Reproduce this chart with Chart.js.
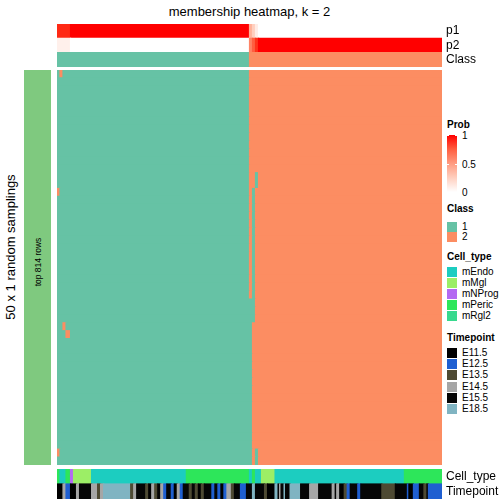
<!DOCTYPE html>
<html>
<head>
<meta charset="utf-8">
<title>membership heatmap, k = 2</title>
<script src="https://cdn.jsdelivr.net/npm/chart.js@4.4.1/dist/chart.umd.min.js"></script>
<style>
    html, body { margin: 0; padding: 0; background: #ffffff; }
    body {
        position: relative;
        width: 504px;
        height: 504px;
        overflow: hidden;
        font-family: "Liberation Sans", Arial, Helvetica, sans-serif;
        color: #000000;
    }
    canvas { position: absolute; }
    .txt { position: absolute; white-space: nowrap; line-height: 1; }
    #title { left: 249.5px; top: 11px; font-size: 13px; transform: translate(-50%, -50%); }
    #sideTitle { left: 10px; top: 247px; font-size: 13px; transform: translate(-50%, -50%) rotate(-90deg); }
    #rowSplit { position: absolute; left: 24px; top: 70px; width: 27px; height: 395px; background: #7FC97F; }
    #rowSplit span { left: 14px; top: 192px; font-size: 8.5px; transform: translate(-50%, -50%) rotate(-90deg); }
    #topAnno { left: 57px; top: 24px; }
    #mainHeatmap { left: 57px; top: 70px; }
    #bottomAnno { left: 57px; top: 469px; }
    .legTitle { font-size: 10px; font-weight: bold; transform: translateY(-50%); }
    .legLabel { font-size: 10px; transform: translateY(-50%); }
    .legBox { position: absolute; width: 10px; height: 10px; }
    .legTick { position: absolute; width: 2px; height: 1px; background: #ffffff; }
</style>
</head>
<body>

<div id="title" class="txt">membership heatmap, k = 2</div>
<div id="sideTitle" class="txt">50 x 1 random samplings</div>
<div id="rowSplit"><span class="txt">top 814 rows</span></div>

<canvas id="topAnno" width="447" height="43"></canvas>
<canvas id="mainHeatmap" width="385" height="395"></canvas>
<canvas id="bottomAnno" width="447" height="30"></canvas>

<div id="legends"></div>

<script>
// ======================================
// Data
// ======================================

const SAMPLE_COUNT = 256;

const SAMPLING_ROWS = 50;

// class per sample in the consensus: [start, end, class]
const sampleClassRuns = [
    [0, 128, "1"],
    [128, 256, "2"]
];

// membership probability of class 1: [start, end, p1]
const p1Runs = [
    [0, 9, 0.92],
    [9, 128, 1],
    [128, 130, 0.4],
    [130, 132, 0.25],
    [132, 134, 0.1],
    [134, 256, 0]
];

// samplings that disagree with the consensus: [firstRow, lastRow, start, end, class]
const membershipChanges = [
    [0, 0, 2, 4, "2"],
    [15, 15, 0, 2, "2"],
    [32, 32, 4, 6, "2"],
    [33, 33, 6, 9, "2"],
    [48, 48, 0, 2, "2"],
    [13, 14, 132, 134, "1"],
    [15, 28, 130, 132, "1"],
    [29, 31, 128, 132, "1"],
    [32, 49, 128, 130, "1"],
    [48, 49, 132, 134, "1"]
];

const cellTypeRuns = [
    [0, 2, "mPeric"],
    [2, 6, "mEndo"],
    [6, 9, "mPeric"],
    [9, 11, "mNProg"],
    [11, 23, "mMgl"],
    [23, 86, "mEndo"],
    [86, 128, "mPeric"],
    [128, 130, "mEndo"],
    [130, 132, "mPeric"],
    [132, 136, "mEndo"],
    [136, 145, "mMgl"],
    [145, 231, "mEndo"],
    [231, 256, "mPeric"]
];

const timepointRuns = [
    [0, 4, "E11.5"], [4, 6, "E14.5"], [6, 9, "E12.5"], [9, 13, "E11.5"],
    [13, 15, "E14.5"], [15, 23, "E15.5"], [23, 27, "E14.5"], [27, 29, "E13.5"],
    [29, 31, "E14.5"], [31, 49, "E18.5"], [49, 51, "E13.5"], [51, 53, "E14.5"],
    [53, 59, "E15.5"], [59, 61, "E13.5"], [61, 63, "E11.5"], [63, 65, "E14.5"],
    [65, 67, "E13.5"], [67, 69, "E15.5"], [69, 71, "E14.5"], [71, 73, "E12.5"],
    [73, 76, "E15.5"], [76, 78, "E12.5"], [78, 80, "E11.5"], [80, 82, "E14.5"],
    [82, 84, "E12.5"], [84, 88, "E15.5"], [88, 90, "E13.5"], [90, 92, "E15.5"],
    [92, 94, "E13.5"], [94, 96, "E11.5"], [96, 98, "E13.5"], [98, 103, "E15.5"],
    [103, 105, "E12.5"], [105, 107, "E15.5"], [107, 109, "E12.5"], [109, 111, "E11.5"],
    [111, 113, "E12.5"], [113, 116, "E14.5"], [116, 118, "E13.5"], [118, 122, "E15.5"],
    [122, 126, "E12.5"], [126, 130, "E15.5"], [130, 132, "E18.5"], [132, 138, "E15.5"],
    [138, 140, "E13.5"], [140, 145, "E11.5"], [145, 147, "E18.5"], [147, 148, "E15.5"],
    [148, 149, "E14.5"], [149, 151, "E15.5"], [151, 152, "E18.5"], [152, 155, "E15.5"],
    [155, 162, "E18.5"], [162, 168, "E15.5"], [168, 174, "E14.5"], [174, 183, "E15.5"],
    [183, 185, "E14.5"], [185, 186, "E15.5"], [186, 188, "E14.5"], [188, 191, "E11.5"],
    [191, 193, "E13.5"], [193, 195, "E12.5"], [195, 200, "E15.5"], [200, 202, "E12.5"],
    [202, 216, "E15.5"], [216, 225, "E13.5"], [225, 233, "E15.5"], [233, 234, "E12.5"],
    [234, 237, "E11.5"], [237, 241, "E12.5"], [241, 244, "E15.5"], [244, 246, "E13.5"],
    [246, 247, "E15.5"], [247, 256, "E12.5"]
];

const classNames = ["1", "2"];

const cellTypeNames = ["mEndo", "mMgl", "mNProg", "mPeric", "mRgl2"];

const timepointNames = ["E11.5", "E12.5", "E13.5", "E14.5", "E15.5", "E18.5"];

const probTicks = [1, 0.5, 0];

// ======================================
// Colours
// ======================================

const FONT = "'Liberation Sans', Arial, Helvetica, sans-serif";

const classColors = {
    "1": "#66C2A5",
    "2": "#FC8D62"
};

const cellTypeColors = {
    mEndo: "#1CCDC0",
    mMgl: "#9CEE66",
    mNProg: "#B469F2",
    mPeric: "#2DE65A",
    mRgl2: "#38D98E"
};

const timepointColors = {
    "E11.5": "#000000",
    "E12.5": "#1F5FD1",
    "E13.5": "#4E4A33",
    "E14.5": "#A6A6A6",
    "E15.5": "#060606",
    "E18.5": "#80B4C2"
};

function probColor(p) {

    const g = Math.round(255 * Math.pow(1 - p, 0.72));

    const b = Math.round(255 * (1 - p));

    return "rgb(255," + g + "," + b + ")";

}

// ======================================
// Build floating bars from runs
// ======================================

function runsToBars(runs, rowLabel, colorOf, target) {

    runs.forEach(function (run) {

        target.bars.push({ x: [run[0], run[1]], y: rowLabel });

        target.colors.push(colorOf(run[2]));

    });

}

function buildMembershipGrid() {

    const grid = [];

    for (let r = 0; r < SAMPLING_ROWS; r++) {

        const row = [];

        sampleClassRuns.forEach(function (run) {
            for (let s = run[0]; s < run[1]; s++) row[s] = run[2];
        });

        grid.push(row);
    }

    membershipChanges.forEach(function (c) {
        for (let r = c[0]; r <= c[1]; r++) {
            for (let s = c[2]; s < c[3]; s++) grid[r][s] = c[4];
        }
    });

    return grid;

}

function rowToRuns(row) {

    const runs = [];

    let start = 0;

    for (let s = 1; s <= row.length; s++) {
        if (s === row.length || row[s] !== row[start]) {
            runs.push([start, s, row[start]]);
            start = s;
        }
    }

    return runs;

}

// ======================================
// Chart factory
// ======================================

function makeHeatmap(canvasId, rowLabels, target, showRowNames) {

    return new Chart(document.getElementById(canvasId), {

        type: "bar",

        data: {

            labels: rowLabels,

            datasets: [{

                data: target.bars,

                backgroundColor: target.colors,

                borderWidth: 0,

                borderSkipped: false,

                // small overlap so neighbouring cells leave no hairline seams
                inflateAmount: 0.6,

                barPercentage: 1,

                categoryPercentage: 1

            }]
        },

        options: {

            indexAxis: "y",

            responsive: false,

            animation: false,

            events: [],

            layout: { padding: 0 },

            plugins: {
                legend: { display: false },
                tooltip: { enabled: false }
            },

            scales: {

                x: {
                    type: "linear",
                    min: 0,
                    max: SAMPLE_COUNT,
                    display: false
                },

                y: {
                    type: "category",
                    position: "right",
                    display: showRowNames,
                    grid: { display: false, drawTicks: false },
                    border: { display: false },
                    ticks: {
                        color: "#000000",
                        padding: 4,
                        autoSkip: false,
                        font: { family: FONT, size: 12 }
                    },
                    afterFit: function (scale) {
                        if (!showRowNames) return;
                        // labels sit in the middle of each band, no extra room needed
                        scale.width = 62;
                        scale.paddingTop = 0;
                        scale.paddingBottom = 0;
                    }
                }
            }
        }

    });

}

// ======================================
// Heatmap blocks
// ======================================

function initializeCharts() {

    const p2Runs = p1Runs.map(function (run) {
        return [run[0], run[1], 1 - run[2]];
    });

    const top = { bars: [], colors: [] };

    runsToBars(p1Runs, "p1", probColor, top);

    runsToBars(p2Runs, "p2", probColor, top);

    runsToBars(sampleClassRuns, "Class", function (c) { return classColors[c]; }, top);

    makeHeatmap("topAnno", ["p1", "p2", "Class"], top, true);


    const grid = buildMembershipGrid();

    const rowLabels = [];

    const main = { bars: [], colors: [] };

    grid.forEach(function (row, r) {

        const label = "sampling " + (r + 1);

        rowLabels.push(label);

        runsToBars(rowToRuns(row), label, function (c) { return classColors[c]; }, main);

    });

    makeHeatmap("mainHeatmap", rowLabels, main, false);


    const bottom = { bars: [], colors: [] };

    runsToBars(cellTypeRuns, "Cell_type", function (c) { return cellTypeColors[c]; }, bottom);

    runsToBars(timepointRuns, "Timepoint", function (c) { return timepointColors[c]; }, bottom);

    makeHeatmap("bottomAnno", ["Cell_type", "Timepoint"], bottom, true);

}

// ======================================
// Legends (right side)
// ======================================

const legendsElement = document.getElementById("legends");

function addText(cls, text, left, top) {

    const el = document.createElement("div");

    el.className = "txt " + cls;

    el.textContent = text;

    el.style.left = left + "px";

    el.style.top = top + "px";

    legendsElement.appendChild(el);

}

function addBox(color, left, top) {

    const el = document.createElement("div");

    el.className = "legBox";

    el.style.left = left + "px";

    el.style.top = top + "px";

    el.style.background = color;

    legendsElement.appendChild(el);

}

function addDiscreteLegend(title, names, colors, titleY, firstBoxY, step) {

    addText("legTitle", title, 447, titleY);

    names.forEach(function (name, i) {

        const y = firstBoxY + i * step;

        addBox(colors[name], 447, y);

        addText("legLabel", name, 462, y + 5);

    });

}

function initializeLegends() {

    // Prob colour bar
    addText("legTitle", "Prob", 447, 125);

    const barTop = 135;

    const barHeight = 57;

    const bar = document.createElement("div");

    bar.className = "legBox";

    bar.style.left = "447px";

    bar.style.top = barTop + "px";

    bar.style.height = barHeight + "px";

    bar.style.background = "linear-gradient(to bottom, " +
        [1, 0.75, 0.5, 0.25, 0].map(probColor).join(", ") + ")";

    legendsElement.appendChild(bar);

    probTicks.forEach(function (p) {

        const y = barTop + (1 - p) * barHeight;

        [447, 455].forEach(function (x) {
            const t = document.createElement("div");
            t.className = "legTick";
            t.style.left = x + "px";
            t.style.top = Math.round(y) + "px";
            legendsElement.appendChild(t);
        });

        addText("legLabel", String(p), 462, y + 1);

    });

    addDiscreteLegend("Class", classNames, classColors, 209, 222, 10);

    addDiscreteLegend("Cell_type", cellTypeNames, cellTypeColors, 257, 267, 11);

    addDiscreteLegend("Timepoint", timepointNames, timepointColors, 338, 348, 11.2);

}

initializeCharts();

initializeLegends();
</script>
</body>
</html>
